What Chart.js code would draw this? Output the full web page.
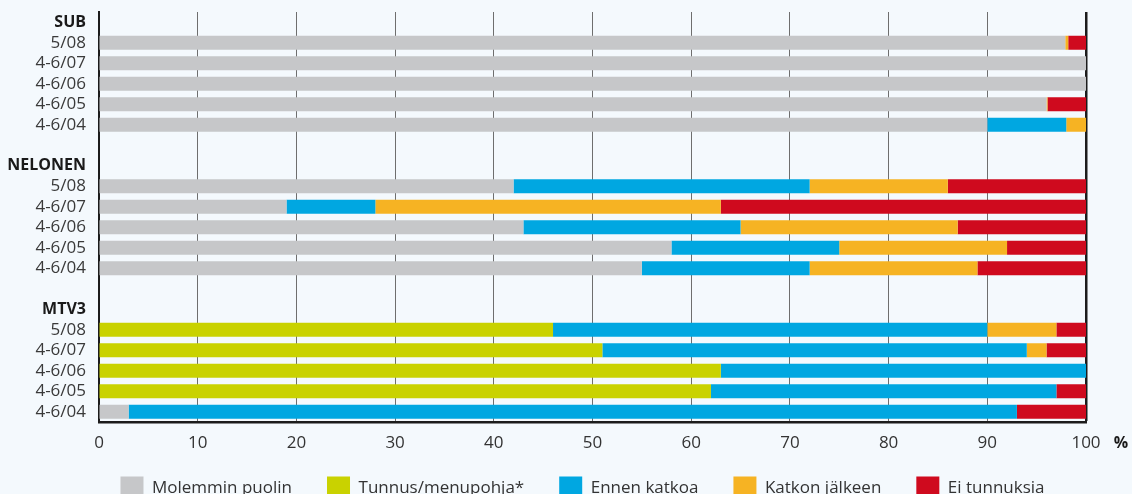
<!DOCTYPE html>
<html>
<head>
<meta charset="utf-8">
<script src="https://cdn.jsdelivr.net/npm/chart.js@4/dist/chart.umd.min.js"></script>
<style>
html,body{margin:0;padding:0;overflow:hidden;background:#f4f9fd;}
canvas{display:block;}
</style>
</head>
<body>
<canvas id="c" width="1132" height="522"></canvas>
<script>
const categories = ['SUB','5/08','4-6/07','4-6/06','4-6/05','4-6/04','',
                    'NELONEN','5/08','4-6/07','4-6/06','4-6/05','4-6/04','',
                    'MTV3','5/08','4-6/07','4-6/06','4-6/05','4-6/04'];
const groupHeaders = ['SUB','NELONEN','MTV3'];
const seriesNames = ['Molemmin puolin','Tunnus/menupohja*','Ennen katkoa','Katkon jälkeen','Ei tunnuksia'];
const molemmin = [null,97.9,100,100,96,90,null, null,42,19,43,58,55,null, null,0,0,0,0,3];
const tunnus   = [null,0,0,0,0,0,null,           null,0,0,0,0,0,null,       null,46,51,63,62,0];
const ennen    = [null,0,0,0,0,8,null,           null,30,9,22,17,17,null,   null,44,43,37,35,90];
const jalkeen  = [null,0.3,0,0,0.1,2,null,       null,14,35,22,17,17,null,  null,7,2,0,0,0];
const eiTunn   = [null,1.8,0,0,3.9,0,null,       null,14,37,13,8,11,null,   null,3,4,0,3,7];
const xTicks = [0,10,20,30,40,50,60,70,80,90,100];
const colors = ['#c6c7c9','#c9d200','#00a7e1','#f6b323','#cf0a1e'];

const FONT = "'Open Sans', sans-serif";
const seriesData = [molemmin, tunnus, ennen, jalkeen, eiTunn];

const percentPlugin = {
  id: 'percentLabel',
  afterDraw(chart) {
    const ctx = chart.ctx;
    const xs = chart.scales.x;
    ctx.save();
    ctx.font = "bold 16px " + FONT;
    ctx.fillStyle = '#1a1a1a';
    ctx.textAlign = 'center';
    ctx.textBaseline = 'middle';
    ctx.fillText('%', xs.right + 35, xs.top + 21);
    ctx.restore();
  }
};

// nudge the legend box: start a bit further right and sit closer to the axis
const legendPlace = {
  id: 'legendPlace',
  afterLayout(chart) {
    const lg = chart.legend;
    if (!lg) return;
    lg.left = 33;
    lg.top -= 12.5;
    lg.bottom -= 12.5;
  }
};

new Chart(document.getElementById('c'), {
  type: 'bar',
  data: {
    labels: categories,
    datasets: seriesData.map((d, i) => ({
      label: seriesNames[i],
      data: d,
      backgroundColor: colors[i],
      borderWidth: 0,
      barPercentage: 0.683,
      categoryPercentage: 1
    }))
  },
  options: {
    indexAxis: 'y',
    responsive: false,
    animation: false,
    layout: { padding: { left: 0, right: 0, top: 12, bottom: 0 } },
    plugins: {
      tooltip: { enabled: false },
      legend: {
        position: 'bottom',
        labels: {
          font: { family: FONT, size: 17 },
          color: '#333333',
          boxWidth: 23,
          boxHeight: 23,
          padding: 35
        }
      }
    },
    scales: {
      x: {
        type: 'linear',
        stacked: true,
        min: 0,
        max: 100,
        afterBuildTicks: (s) => { s.ticks = xTicks.map(v => ({ value: v })); },
        afterFit: (s) => { s.height = 32; },
        ticks: {
          font: { family: FONT, size: 17 },
          color: '#333333',
          padding: 11
        },
        grid: {
          drawTicks: false,
          color: (c) => (c.tick && (c.tick.value === 100 || c.tick.value === 0)) ? '#1c1c1c' : '#6e6e6e',
          lineWidth: (c) => (c.tick && c.tick.value === 100) ? 2.5 : 1
        },
        border: { display: true, color: '#1c1c1c', width: 2.5 }
      },
      y: {
        type: 'category',
        stacked: true,
        afterFit: (s) => { s.width = 99; s.paddingTop = 0; s.paddingBottom = 0; },
        ticks: {
          autoSkip: false,
          padding: 13,
          font: (c) => groupHeaders.includes(categories[c.index])
            ? { family: FONT, size: 16, weight: 'bold' }
            : { family: FONT, size: 17 },
          color: (c) => groupHeaders.includes(categories[c.index]) ? '#1a1a1a' : '#3a3a3a'
        },
        grid: { display: false, drawTicks: false },
        border: { display: true, color: '#1c1c1c', width: 2 }
      },
      y2: {
        type: 'category',
        position: 'right',
        display: true,
        afterFit: (s) => { s.width = 46; s.paddingTop = 0; s.paddingBottom = 0; },
        ticks: { display: false },
        grid: { display: false, drawTicks: false },
        border: { display: false }
      }
    }
  },
  plugins: [percentPlugin, legendPlace]
});
</script>
</body>
</html>
